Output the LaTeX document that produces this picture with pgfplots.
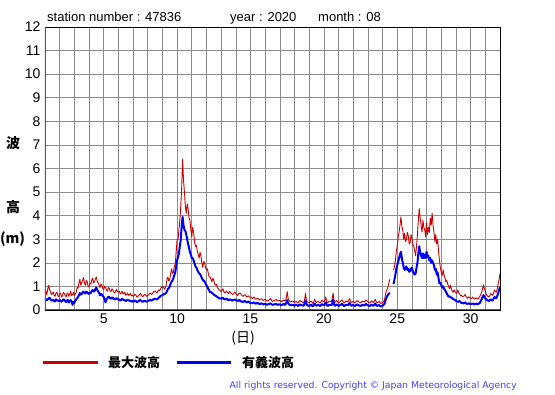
\documentclass[border=0pt]{standalone}
\usepackage{pgfplots}
\usepackage{pgfplotstable}
\pgfplotsset{compat=1.18}
\usepackage{fontspec}
\setmainfont{Liberation Sans}
\newfontfamily\jp{Noto Sans CJK JP}
\newfontfamily\dv{DejaVu Sans}
\definecolor{wred}{HTML}{CC0000}
\definecolor{wblue}{HTML}{0000FF}
\definecolor{gridgray}{HTML}{8C8C8C}
\definecolor{copyblue}{HTML}{4040FF}

\pgfplotstableread{
x max sig
1.000 0.70 0.40
1.0625 0.80 0.46
1.125 0.65 0.42
1.1875 0.90 0.44
1.250 1.05 0.50
1.3125 0.85 0.52
1.375 0.78 0.45
1.4375 0.66 0.41
1.500 0.70 0.40
1.5625 0.76 0.43
1.625 0.62 0.38
1.6875 0.58 0.36
1.750 0.72 0.45
1.8125 0.75 0.41
1.875 0.60 0.40
1.9375 0.56 0.37
2.000 0.68 0.42
2.0625 0.72 0.40
2.125 0.55 0.35
2.1875 0.60 0.39
2.250 0.75 0.45
2.3125 0.70 0.43
2.375 0.62 0.38
2.4375 0.55 0.34
2.500 0.70 0.40
2.5625 0.72 0.42
2.625 0.58 0.32
2.6875 0.66 0.38
2.750 0.80 0.42
2.8125 0.60 0.36
2.875 0.65 0.22
2.9375 0.75 0.34
3.000 0.60 0.30
3.0625 0.68 0.40
3.125 0.75 0.45
3.1875 0.95 0.50
3.250 0.92 0.55
3.3125 1.15 0.62
3.375 1.30 0.72
3.4375 1.05 0.65
3.500 1.15 0.68
3.5625 1.25 0.75
3.625 1.38 0.78
3.6875 1.15 0.72
3.750 1.05 0.70
3.8125 1.25 0.78
3.875 1.20 0.75
3.9375 1.00 0.70
4.000 0.98 0.68
4.0625 1.15 0.74
4.125 1.10 0.72
4.1875 1.28 0.80
4.250 1.35 0.85
4.3125 1.15 0.78
4.375 1.20 0.80
4.4375 1.32 0.90
4.500 1.40 0.95
4.5625 1.20 0.85
4.625 1.15 0.78
4.6875 1.05 0.72
4.750 0.95 0.62
4.8125 1.10 0.68
4.875 1.05 0.65
4.9375 0.92 0.60
5.000 0.88 0.55
5.0625 1.00 0.45
5.125 0.95 0.32
5.1875 0.85 0.45
5.250 0.80 0.50
5.3125 0.95 0.56
5.375 0.92 0.55
5.4375 0.80 0.50
5.500 0.78 0.48
5.5625 0.90 0.53
5.625 0.85 0.52
5.6875 0.76 0.46
5.750 0.72 0.45
5.8125 0.80 0.48
5.875 0.88 0.50
5.9375 0.78 0.46
6.000 0.75 0.45
6.0625 0.80 0.44
6.125 0.68 0.40
6.1875 0.72 0.43
6.250 0.80 0.48
6.3125 0.68 0.44
6.375 0.70 0.42
6.4375 0.74 0.42
6.500 0.62 0.38
6.5625 0.66 0.40
6.625 0.72 0.44
6.6875 0.62 0.41
6.750 0.65 0.40
6.8125 0.70 0.39
6.875 0.60 0.36
6.9375 0.64 0.38
7.000 0.58 0.35
7.0625 0.60 0.37
7.125 0.66 0.40
7.1875 0.64 0.38
7.250 0.55 0.34
7.3125 0.56 0.35
7.375 0.62 0.38
7.4375 0.65 0.41
7.500 0.70 0.42
7.5625 0.64 0.39
7.625 0.57 0.35
7.6875 0.58 0.36
7.750 0.64 0.38
7.8125 0.66 0.38
7.875 0.60 0.36
7.9375 0.58 0.36
8.000 0.62 0.38
8.0625 0.64 0.39
8.125 0.70 0.42
8.1875 0.72 0.42
8.250 0.66 0.40
8.3125 0.68 0.41
8.375 0.75 0.45
8.4375 0.80 0.47
8.500 0.80 0.48
8.5625 0.76 0.46
8.625 0.72 0.44
8.6875 0.80 0.48
8.750 0.85 0.52
8.8125 0.82 0.55
8.875 0.90 0.60
8.9375 0.98 0.62
9.000 0.95 0.62
9.0625 1.00 0.66
9.125 0.88 0.68
9.1875 0.92 0.69
9.250 1.05 0.72
9.3125 1.30 0.80
9.375 1.40 0.90
9.4375 1.22 0.92
9.500 1.30 1.00
9.5625 1.55 1.12
9.625 1.75 1.20
9.6875 1.55 1.25
9.750 1.60 1.35
9.8125 1.85 1.48
9.875 1.95 1.60
9.9375 2.45 1.85
10.000 3.00 2.10
10.0625 3.00 2.25
10.125 3.40 2.40
10.1875 3.80 2.70
10.250 4.40 3.00
10.3125 5.20 3.55
10.375 6.40 3.95
10.4375 5.50 3.60
10.500 5.00 3.40
10.5625 4.40 3.35
10.625 4.10 3.20
10.6875 4.50 3.00
10.750 4.30 2.80
10.8125 3.90 2.65
10.875 3.80 2.45
10.9375 3.40 2.35
11.000 3.10 2.20
11.0625 3.50 2.20
11.125 3.30 2.10
11.1875 2.90 1.98
11.250 2.70 1.85
11.3125 2.75 1.80
11.375 2.50 1.70
11.4375 2.35 1.62
11.500 2.20 1.55
11.5625 2.45 1.52
11.625 2.30 1.45
11.6875 2.00 1.35
11.750 1.80 1.27
11.8125 2.05 1.25
11.875 2.00 1.20
11.9375 1.80 1.12
12.000 1.70 1.05
12.0625 1.75 0.98
12.125 1.55 0.90
12.1875 1.40 0.82
12.250 1.40 0.75
12.3125 1.30 0.76
12.375 1.20 0.72
12.4375 1.35 0.70
12.500 1.25 0.65
12.5625 1.10 0.63
12.625 1.05 0.60
12.6875 1.08 0.58
12.750 0.95 0.55
12.8125 0.90 0.52
12.875 0.85 0.50
12.9375 0.82 0.49
13.000 0.78 0.48
13.0625 0.84 0.50
13.125 0.90 0.52
13.1875 0.78 0.47
13.250 0.72 0.45
13.3125 0.76 0.46
13.375 0.80 0.48
13.4375 0.74 0.44
13.500 0.70 0.42
13.5625 0.78 0.44
13.625 0.75 0.45
13.6875 0.70 0.42
13.750 0.68 0.40
13.8125 0.66 0.42
13.875 0.72 0.43
13.9375 0.76 0.44
14.000 0.70 0.42
14.0625 0.66 0.40
14.125 0.62 0.38
14.1875 0.68 0.41
14.250 0.72 0.42
14.3125 0.70 0.38
14.375 0.66 0.36
14.4375 0.60 0.36
14.500 0.58 0.34
14.5625 0.62 0.37
14.625 0.65 0.38
14.6875 0.60 0.34
14.750 0.55 0.32
14.8125 0.58 0.35
14.875 0.60 0.35
14.9375 0.55 0.32
15.000 0.52 0.30
15.0625 0.54 0.30
15.125 0.48 0.28
15.1875 0.52 0.31
15.250 0.55 0.32
15.3125 0.48 0.28
15.375 0.45 0.27
15.4375 0.48 0.29
15.500 0.50 0.30
15.5625 0.46 0.27
15.625 0.42 0.25
15.6875 0.46 0.27
15.750 0.48 0.28
15.8125 0.44 0.26
15.875 0.40 0.24
15.9375 0.43 0.25
16.000 0.45 0.26
16.0625 0.42 0.24
16.125 0.38 0.22
16.1875 0.40 0.24
16.250 0.42 0.25
16.3125 0.45 0.27
16.375 0.48 0.28
16.4375 0.40 0.24
16.500 0.36 0.22
16.5625 0.39 0.23
16.625 0.40 0.24
16.6875 0.43 0.25
16.750 0.44 0.26
16.8125 0.40 0.23
16.875 0.38 0.22
16.9375 0.41 0.24
17.000 0.40 0.24
17.0625 0.37 0.22
17.125 0.35 0.20
17.1875 0.39 0.23
17.250 0.42 0.25
17.3125 0.40 0.23
17.375 0.38 0.22
17.4375 0.50 0.30
17.500 0.78 0.42
17.5625 0.50 0.30
17.625 0.40 0.24
17.6875 0.36 0.21
17.750 0.34 0.20
17.8125 0.37 0.22
17.875 0.38 0.22
17.9375 0.34 0.20
18.000 0.32 0.18
18.0625 0.35 0.21
18.125 0.36 0.22
18.1875 0.32 0.19
18.250 0.30 0.17
18.3125 0.36 0.21
18.375 0.40 0.24
18.4375 0.36 0.21
18.500 0.35 0.20
18.5625 0.32 0.19
18.625 0.30 0.18
18.6875 0.45 0.27
18.750 0.70 0.40
18.8125 0.42 0.25
18.875 0.34 0.20
18.9375 0.31 0.18
19.000 0.30 0.17
19.0625 0.35 0.20
19.125 0.38 0.22
19.1875 0.32 0.18
19.250 0.28 0.16
19.3125 0.36 0.22
19.375 0.45 0.28
19.4375 0.36 0.21
19.500 0.32 0.18
19.5625 0.35 0.20
19.625 0.36 0.21
19.6875 0.32 0.19
19.750 0.30 0.17
19.8125 0.36 0.21
19.875 0.42 0.25
19.9375 0.36 0.22
20.000 0.34 0.20
20.0625 0.42 0.25
20.125 0.55 0.32
20.1875 0.38 0.22
20.250 0.30 0.17
20.3125 0.34 0.20
20.375 0.38 0.22
20.4375 0.36 0.21
20.500 0.35 0.20
20.5625 0.45 0.26
20.625 0.72 0.45
20.6875 0.42 0.25
20.750 0.32 0.18
20.8125 0.36 0.21
20.875 0.40 0.24
20.9375 0.34 0.20
21.000 0.30 0.17
21.0625 0.33 0.19
21.125 0.36 0.21
21.1875 0.40 0.24
21.250 0.42 0.26
21.3125 0.34 0.20
21.375 0.30 0.17
21.4375 0.34 0.20
21.500 0.38 0.22
21.5625 0.36 0.21
21.625 0.34 0.20
21.6875 0.40 0.24
21.750 0.48 0.30
21.8125 0.38 0.22
21.875 0.32 0.18
21.9375 0.34 0.20
22.000 0.36 0.21
22.0625 0.33 0.19
22.125 0.30 0.17
22.1875 0.35 0.20
22.250 0.40 0.24
22.3125 0.37 0.22
22.375 0.34 0.20
22.4375 0.32 0.18
22.500 0.30 0.17
22.5625 0.34 0.20
22.625 0.38 0.22
22.6875 0.35 0.20
22.750 0.33 0.19
22.8125 0.38 0.22
22.875 0.42 0.26
22.9375 0.38 0.22
23.000 0.35 0.20
23.0625 0.32 0.18
23.125 0.30 0.17
23.1875 0.34 0.20
23.250 0.38 0.22
23.3125 0.35 0.20
23.375 0.32 0.18
23.4375 0.38 0.22
23.500 0.45 0.28
23.5625 0.36 0.21
23.625 0.30 0.17
23.6875 0.33 0.19
23.750 0.36 0.21
23.8125 0.32 0.18
23.875 0.28 0.15
23.9375 0.30 0.17
24.000 0.30 0.18
24.0625 0.36 0.22
24.125 0.40 0.25
24.1875 0.62 0.38
24.250 0.80 0.50
24.3125 0.88 0.58
24.375 1.00 0.65
24.4375 1.18 0.70
24.500 1.30 0.72
24.625 nan nan
24.750 1.70 1.10
24.8125 1.85 1.30
24.875 2.10 1.50
24.9375 2.50 1.75
25.000 2.70 1.90
25.0625 3.10 2.05
25.125 3.30 2.20
25.1875 3.60 2.35
25.250 3.95 2.47
25.3125 3.55 2.20
25.375 3.40 2.00
25.4375 3.00 1.80
25.500 3.25 1.70
25.5625 2.90 1.78
25.625 3.00 1.85
25.6875 3.30 1.70
25.750 3.15 1.75
25.8125 2.80 1.62
25.875 2.85 1.65
25.9375 3.20 1.75
26.000 3.05 1.80
26.0625 2.80 1.65
26.125 2.70 1.55
26.1875 2.50 1.50
26.250 2.30 1.55
26.3125 2.70 1.80
26.375 3.20 2.00
26.4375 3.80 2.40
26.500 4.30 2.70
26.5625 3.90 2.45
26.625 3.60 2.30
26.6875 3.30 2.20
26.750 3.80 2.40
26.8125 3.50 2.20
26.875 3.40 2.35
26.9375 3.10 2.20
27.000 3.70 2.47
27.0625 3.20 2.25
27.125 3.50 2.30
27.1875 3.30 2.10
27.250 3.90 2.20
27.3125 3.60 2.00
27.375 4.10 2.10
27.4375 3.60 2.00
27.500 3.30 1.90
27.5625 2.90 1.70
27.625 3.20 1.75
27.6875 2.80 1.50
27.750 3.00 1.60
27.8125 2.50 1.35
27.875 2.10 1.13
27.9375 1.80 1.15
28.000 1.60 1.06
28.0625 1.45 0.95
28.125 1.70 1.00
28.1875 1.50 0.90
28.250 1.35 0.85
28.3125 1.20 0.78
28.375 1.25 0.70
28.4375 1.10 0.62
28.500 1.00 0.56
28.5625 0.90 0.58
28.625 1.05 0.55
28.6875 0.90 0.52
28.750 0.80 0.50
28.8125 0.75 0.46
28.875 0.85 0.45
28.9375 0.78 0.42
29.000 0.72 0.40
29.0625 0.70 0.36
29.125 0.85 0.35
29.1875 0.75 0.36
29.250 0.68 0.38
29.3125 0.60 0.33
29.375 0.62 0.30
29.4375 0.56 0.30
29.500 0.58 0.28
29.5625 0.60 0.30
29.625 0.66 0.32
29.6875 0.56 0.28
29.750 0.52 0.26
29.8125 0.50 0.27
29.875 0.56 0.28
29.9375 0.52 0.26
30.000 0.50 0.25
30.0625 0.48 0.26
30.125 0.55 0.28
30.1875 0.50 0.26
30.250 0.46 0.24
30.3125 0.48 0.25
30.375 0.52 0.27
30.4375 0.46 0.25
30.500 0.48 0.25
30.5625 0.52 0.28
30.625 0.58 0.30
30.6875 0.66 0.38
30.750 0.75 0.45
30.8125 0.90 0.55
30.875 1.06 0.63
30.9375 0.90 0.56
31.000 0.80 0.50
31.0625 0.66 0.45
31.125 0.60 0.42
31.1875 0.58 0.40
31.250 0.55 0.38
31.3125 0.62 0.42
31.375 0.70 0.45
31.4375 0.66 0.42
31.500 0.62 0.40
31.5625 0.72 0.48
31.625 0.85 0.55
31.6875 0.78 0.52
31.750 0.75 0.50
31.8125 0.90 0.60
31.875 1.10 0.70
31.9375 1.30 0.85
32.000 1.55 0.99
}\wavedata

\begin{document}
\begin{tikzpicture}[x=1pt,y=1pt]
\path[use as bounding box] (0,0) rectangle (555,395);
\begin{axis}[
  at={(45pt,85pt)}, anchor=south west,
  scale only axis, width=455pt, height=283pt,
  xmin=1, xmax=32, ymin=0, ymax=12,
  xtick={5,10,15,20,25,30}, minor xtick={1,...,32},
  ytick={0,1,...,12},
  grid=both,
  major grid style={color=gridgray, line width=0.6pt},
  minor grid style={color=gridgray, line width=0.6pt},
  tick style={draw=none},
  axis line style={black, line width=0.8pt},
  ticklabel style={font=\fontsize{14}{16}\selectfont},
  yticklabel style={xshift=-1pt},
  /pgf/number format/assume math mode=true,
  unbounded coords=jump,
]
\addplot[color=wred, line width=0.9pt, line join=round] table[x=x, y=max] {\wavedata};
\addplot[color=wblue, line width=2pt, line join=round] table[x=x, y=sig] {\wavedata};
\draw[color=black!65, line width=2pt] (axis cs:1,12) -- (axis cs:1,0) -- (axis cs:32,0);
\end{axis}
% title
\node[anchor=base west, inner sep=0, font=\fontsize{13}{15}\selectfont] at (47,373.5) {station number : 47836};
\node[anchor=base west, inner sep=0, font=\fontsize{13}{15}\selectfont] at (230,373.5) {year : 2020};
\node[anchor=base west, inner sep=0, font=\fontsize{13}{15}\selectfont] at (318,373.5) {month : 08};
% y label
\node[font=\jp\bfseries\fontsize{14}{16}\selectfont, inner sep=0] at (13,252) {波};
\node[font=\jp\bfseries\fontsize{14}{16}\selectfont, inner sep=0] at (13,188) {高};
\node[font=\jp\bfseries\fontsize{14}{16}\selectfont, inner sep=0] at (12.5,156) {(m)};
% x label
\node[font=\jp\fontsize{14}{16}\selectfont, inner sep=0] at (243,57) {(日)};
% legend
\draw[color=wred, line width=3pt] (43,32) -- (98,32);
\node[font=\jp\bfseries\fontsize{13}{15}\selectfont, inner sep=0] at (134,32) {最大波高};
\draw[color=wblue, line width=3pt] (177,32) -- (231,32);
\node[font=\jp\bfseries\fontsize{13}{15}\selectfont, inner sep=0] at (268,32) {有義波高};
% copyright
\node[anchor=base east, inner sep=0, font=\dv\fontsize{9.3}{11}\selectfont, text=copyblue] at (517,6.5) {All rights reserved. Copyright © Japan Meteorological Agency};
\end{tikzpicture}
\end{document}
